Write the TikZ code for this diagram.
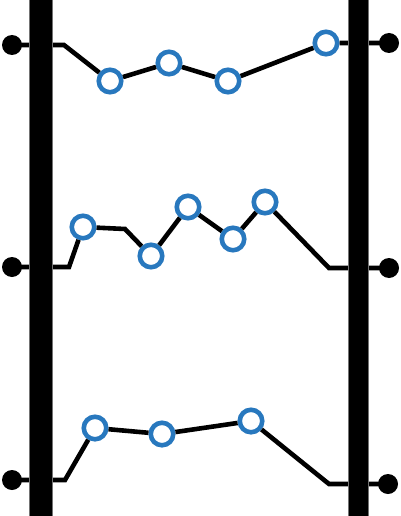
\documentclass[tikz,border=0pt]{standalone}
\begin{document}
\begin{tikzpicture}[x=1pt,y=-1pt,
  ring/.style={circle,draw=ringblue,line width=4.6pt,fill=white,minimum size=22.5pt,inner sep=0pt},
  term/.style={circle,fill=black,minimum size=20pt,inner sep=0pt},
  wire/.style={line width=4.6pt,black,line join=miter},
  barfill/.style={fill=black,draw=black!55,line width=1pt}]
\definecolor{ringblue}{RGB}{40,120,190}
\useasboundingbox (0,0) rectangle (400,516);
% terminals
\node[term] (l1) at (12,45) {};
\node[term] (r1) at (389,43) {};
\node[term] (l2) at (12,267) {};
\node[term] (r2) at (389,268) {};
\node[term] (l3) at (12,480) {};
\node[term] (r3) at (388,484) {};
% bend points
\coordinate (a1) at (64,45);
\coordinate (a2) at (69,267);
\coordinate (b2) at (125,229);
\coordinate (c2) at (329,268);
\coordinate (a3) at (65,480);
\coordinate (c3) at (329,484);
% rings
\node[ring] (p11) at (110,81) {};
\node[ring] (p12) at (169,63) {};
\node[ring] (p13) at (228,81) {};
\node[ring] (p14) at (326,43) {};
\node[ring] (p21) at (83,227) {};
\node[ring] (p22) at (151,256) {};
\node[ring] (p23) at (188,207) {};
\node[ring] (p24) at (233,239) {};
\node[ring] (p25) at (265,202) {};
\node[ring] (p31) at (95,428) {};
\node[ring] (p32) at (162,434) {};
\node[ring] (p33) at (251,421) {};
% wires
\draw[wire] (l1.center) -- (a1) -- (p11) -- (p12) -- (p13) -- (p14) -- (r1.center);
\draw[wire] (l2.center) -- (a2) -- (p21) -- (b2) -- (p22) -- (p23) -- (p24) -- (p25) -- (c2) -- (r2.center);
\draw[wire] (l3.center) -- (a3) -- (p31) -- (p32) -- (p33) -- (c3) -- (r3.center);
% bars
\filldraw[barfill] (29.5,-2) rectangle (52,518);
\filldraw[barfill] (348,-2) rectangle (368.5,518);
\end{tikzpicture}
\end{document}
